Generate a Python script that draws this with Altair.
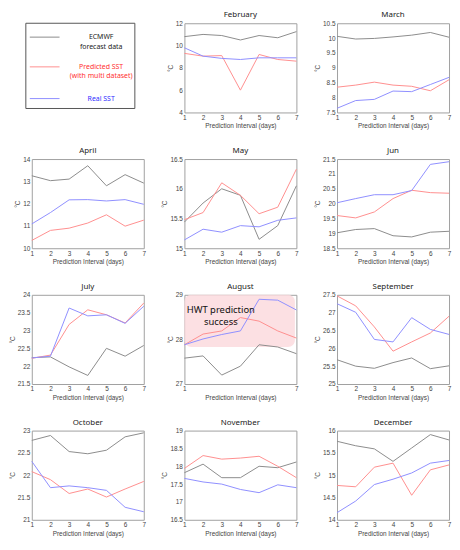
import altair as alt
import pandas as pd

days = [1, 2, 3, 4, 5, 6, 7]
series_names = ["ECMWF forecast data", "Predicted SST (with multi dataset)", "Real SST"]
series_colors = ["#8c8c8c", "#ff8f8f", "#8f8fff"]

months = ["February", "March", "April", "May", "Jun", "July", "August",
          "September", "October", "November", "December"]

ecmwf = {
    "February": [10.8, 11.0, 10.9, 10.5, 10.9, 10.7, 11.25],
    "March": [10.06, 9.97, 9.99, 10.04, 10.1, 10.19, 10.03],
    "April": [13.25, 13.03, 13.1, 13.7, 12.8, 13.3, 12.92],
    "May": [15.44, 15.76, 16.0, 15.89, 15.15, 15.38, 16.05],
    "Jun": [19.02, 19.13, 19.16, 18.92, 18.88, 19.04, 19.07],
    "July": [22.24, 22.26, 21.98, 21.74, 22.5, 22.28, 22.58],
    "August": [27.58, 27.63, 27.2, 27.4, 27.88, 27.83, 27.68],
    "September": [25.68, 25.5, 25.44, 25.6, 25.73, 25.43, 25.51],
    "October": [22.78, 22.89, 22.53, 22.48, 22.56, 22.86, 22.95],
    "November": [17.82, 18.06, 17.68, 17.68, 18.0, 17.96, 18.12],
    "December": [15.76, 15.66, 15.59, 15.31, 15.61, 15.91, 15.79],
}
predicted = {
    "February": [9.3, 9.05, 9.1, 6.0, 9.2, 8.75, 8.6],
    "March": [8.35, 8.42, 8.52, 8.42, 8.38, 8.23, 8.6],
    "April": [10.35, 10.8, 10.9, 11.13, 11.5, 10.99, 11.26],
    "May": [15.48, 15.6, 16.1, 15.89, 15.58, 15.69, 16.33],
    "Jun": [19.6, 19.52, 19.72, 20.17, 20.45, 20.37, 20.35],
    "July": [22.22, 22.31, 23.17, 23.58, 23.44, 23.21, 23.77],
    "August": [27.88, 28.12, 28.19, 28.49, 28.41, 28.19, 28.03],
    "September": [27.47, 27.19, 26.6, 25.92, 26.18, 26.43, 26.9],
    "October": [22.08, 21.9, 21.59, 21.69, 21.51, 21.69, 21.86],
    "November": [17.94, 18.3, 18.2, 18.23, 18.28, 18.0, 17.68],
    "December": [14.77, 14.74, 15.18, 15.27, 14.55, 15.12, 15.23],
}
real = {
    "February": [9.8, 9.05, 8.85, 8.75, 8.9, 8.9, 8.9],
    "March": [7.64, 7.9, 7.94, 8.22, 8.2, 8.44, 8.68],
    "April": [11.09, 11.6, 12.17, 12.18, 12.12, 12.18, 11.97],
    "May": [15.14, 15.32, 15.27, 15.38, 15.36, 15.47, 15.51],
    "Jun": [20.03, 20.17, 20.3, 20.3, 20.44, 21.32, 21.41],
    "July": [22.23, 22.28, 23.63, 23.41, 23.44, 23.2, 23.68],
    "August": [27.88, 28.01, 28.11, 28.19, 28.9, 28.88, 28.66],
    "September": [27.25, 27.01, 26.25, 26.18, 26.86, 26.53, 26.39],
    "October": [22.31, 21.72, 21.76, 21.72, 21.66, 21.28, 21.18],
    "November": [17.66, 17.56, 17.5, 17.35, 17.26, 17.48, 17.4],
    "December": [14.16, 14.42, 14.79, 14.91, 15.05, 15.27, 15.33],
}
y_ticks = {
    "February": [4, 6, 8, 10, 12],
    "March": [7.5, 8, 8.5, 9, 9.5, 10, 10.5],
    "April": [10, 11, 12, 13, 14],
    "May": [15, 15.5, 16, 16.5],
    "Jun": [18.5, 19, 19.5, 20, 20.5, 21, 21.5],
    "July": [21.5, 22, 22.5, 23, 23.5, 24],
    "August": [27, 27.5, 28, 28.5, 29],
    "September": [25, 25.5, 26, 26.5, 27, 27.5],
    "October": [21, 21.5, 22, 22.5, 23],
    "November": [16.5, 17, 17.5, 18, 18.5, 19],
    "December": [14, 14.5, 15, 15.5, 16],
}

# August highlight box and note
hwt_box_x = [1, 6.92]
hwt_box_y = [27.83, 29]
hwt_text = ["HWT prediction", "success"]
hwt_text_x = 2.95
hwt_text_y = 28.66

W, H = 113, 90
AXIS_FONT = "Liberation Sans"
TEXT_FONT = "Noto Sans"


def panel(m):
    rows = []
    for name, src in zip(series_names, [ecmwf, predicted, real]):
        for d, v in zip(days, src[m]):
            rows.append({"day": d, "value": v, "series": name})
    df = pd.DataFrame(rows)
    ticks = y_ticks[m]
    xs = alt.Scale(domain=[1, 7], nice=False)
    ys = alt.Scale(domain=[ticks[0], ticks[-1]], nice=False, zero=False)
    lines = alt.Chart(df).mark_line(strokeWidth=1).encode(
        x=alt.X("day:Q", scale=xs,
                axis=alt.Axis(values=days, title="Prediction Interval (days)", labelFlush=False)),
        y=alt.Y("value:Q", scale=ys,
                axis=alt.Axis(values=ticks, format="~g", title="°C")),
        color=alt.Color("series:N", scale=alt.Scale(domain=series_names, range=series_colors),
                        legend=None),
        detail="series:N",
    )
    if m == "August":
        box = alt.Chart(alt.Data(values=[{}])).mark_rect(
            fill="#fcdade", opacity=0.85, cornerRadius=7
        ).encode(
            x=alt.datum(hwt_box_x[0], scale=xs), x2=alt.datum(hwt_box_x[1]),
            y=alt.datum(hwt_box_y[0], scale=ys), y2=alt.datum(hwt_box_y[1]),
        )
        note = alt.Chart(alt.Data(values=[{}])).mark_text(
            text=hwt_text, font=TEXT_FONT, fontSize=9.5, lineHeight=12.5,
            align="center", baseline="middle", color="#111"
        ).encode(x=alt.datum(hwt_text_x, scale=xs), y=alt.datum(hwt_text_y, scale=ys))
        ch = alt.layer(box, lines, note)
    else:
        ch = lines
    return ch.properties(width=W, height=H, title=m)


one = alt.Data(values=[{}])
legend_box = alt.Chart(one).mark_rect(fill="white", stroke="#555", strokeWidth=1).encode(
    x=alt.value(-6), x2=alt.value(104), y=alt.value(0), y2=alt.value(86))
leg_items = [legend_box]
leg_specs = [
    (series_colors[0], 14, ["ECMWF", "forecast data"], "#222", 14),
    (series_colors[1], 44, ["Predicted SST", "(with multi dataset)"], "#ff3030", 44),
    (series_colors[2], 76, ["Real SST"], "#3030ff", 76),
]
for col, ly, txt, tcol, ty in leg_specs:
    leg_items.append(alt.Chart(one).mark_rule(color=col, strokeWidth=1).encode(
        x=alt.value(-2), x2=alt.value(28), y=alt.value(ly)))
    leg_items.append(alt.Chart(one).mark_text(
        text=txt, font=TEXT_FONT, fontSize=7, lineHeight=9.5, color=tcol,
        align="center", baseline="middle").encode(x=alt.value(70), y=alt.value(ty)))
legend_cell = alt.layer(*leg_items).properties(
    width=W, height=H, view=alt.ViewBackground(stroke="transparent"))

cells = [legend_cell] + [panel(m) for m in months]

chart = alt.concat(
    *cells, columns=3, spacing={"row": 16, "column": 14}, align="each"
).properties(padding=0).configure_view(
    stroke="#a0a0a0", strokeWidth=1
).configure_axis(
    labelFont=AXIS_FONT, titleFont=AXIS_FONT, labelFontSize=6.5, titleFontSize=6.5,
    titleFontWeight="normal", labelColor="#444", titleColor="#444",
    ticks=False, domain=False, grid=False, labelPadding=2, titlePadding=2
).configure_title(
    font=TEXT_FONT, fontSize=8, fontWeight="normal", color="#222", offset=1
)

chart.save("out.html", embed_options={"renderer": "svg", "actions": False})
